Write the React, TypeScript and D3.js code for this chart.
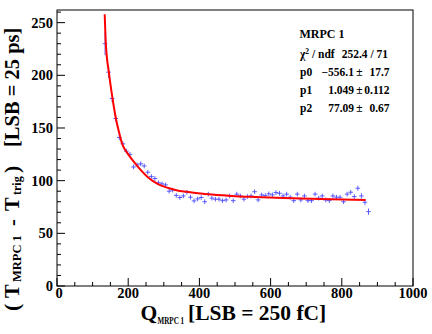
import React, { useEffect } from 'react';
import * as d3 from 'd3';

// ---- data ----
const binCenters = [
  135, 145, 155, 165, 175, 185, 195, 205, 215, 225, 235, 245, 255, 265, 275,
  285, 295, 305, 315, 325, 335, 345, 355, 365, 375, 385, 395, 405, 415, 425,
  435, 445, 455, 465, 475, 485, 495, 505, 515, 525, 535, 545, 555, 565, 575,
  585, 595, 605, 615, 625, 635, 645, 655, 665, 675, 685, 695, 705, 715, 725,
  735, 745, 755, 765, 775, 785, 795, 805, 815, 825, 835, 845, 855, 865, 875,
];
const tdiff = [
  230, 203, 178, 159, 141, 135, 128, 125, 113, 115, 116, 114, 108, 104, 102,
  98, 97, 96, 90, 91, 86, 84, 85.5, 89, 84.3, 80.8, 82.7, 84, 80, 87.2,
  83.4, 82.4, 82.4, 81, 81.7, 85.5, 81, 87.2, 85.5, 82.4, 84.9, 85.5, 89.5, 81.7, 86.5,
  85.8, 87.5, 86.5, 88.7, 88, 85.5, 87.2, 84.3, 81, 87.2, 81.7, 85.5, 81, 81, 87.2,
  83.4, 85.5, 81.7, 81, 85.5, 84.3, 84.3, 80, 87.2, 89, 84.9, 92.8, 85.5, 79.5, 70.6,
];
const tdiffErr = [
  11, 5.5, 3.5, 3, 2.6, 2.4, 2.3, 2.2, 2.2, 2.2, 2.2, 2.2, 2.2, 2.2, 2.2,
  2.2, 2.2, 2.2, 2.2, 2.2, 2.2, 2.2, 2.2, 2.2, 2.2, 2.2, 2.2, 2.2, 2.2, 2.2,
  2.2, 2.2, 2.2, 2.2, 2.2, 2.2, 2.2, 2.2, 2.2, 2.2, 2.2, 2.2, 2.2, 2.2, 2.2,
  2.2, 2.2, 2.2, 2.2, 2.2, 2.2, 2.2, 2.2, 2.2, 2.2, 2.2, 2.2, 2.2, 2.2, 2.2,
  2.2, 2.2, 2.2, 2.2, 2.2, 2.2, 2.2, 2.2, 2.2, 2.2, 2.4, 2.4, 2.6, 2.8, 3,
];
// fit curve
const fitQ = [134, 137, 146, 156, 166, 175, 182, 190, 200, 219, 238, 256, 285, 313, 341, 374, 425, 491, 556, 636, 739, 867];
const fitT = [258, 231, 202, 178, 158, 145, 136, 130, 125, 116.6, 109, 103, 96.5, 93, 90.5, 89, 87, 85.5, 84.5, 83.5, 82.5, 81.7];

const xTicks = [0, 200, 400, 600, 800, 1000];
const yTicks = [0, 50, 100, 150, 200, 250];

const statsTitle = 'MRPC 1';
const chi2Text = '252.4 / 71';
const parNames = ['p0', 'p1', 'p2'];
const parValues = ['\u2212556.1', '1.049', '77.09'];
const parErrors = ['17.7', '0.112', '0.67'];

// ---- layout ----
const W = 432;
const H = 334;
const FL = 57, FR = 413, FT = 10, FB = 286;
const FONT = '"Liberation Serif", "Times New Roman", serif';

export default function App() {
  useEffect(() => {
    document.body.style.margin = '0';
  }, []);

  const x = d3.scaleLinear().domain([0, 1000]).range([FL, FR]);
  const y = d3.scaleLinear().domain([0, 262]).range([FB, FT]);

  const xMinor = d3.range(0, 1001, 50);
  const yMinor = d3.range(0, 261, 10);

  const fitPts = fitQ.map((q, i) => [q, fitT[i]] as [number, number]);
  const fitPath = d3
    .line<[number, number]>()
    .x((d) => x(d[0]))
    .y((d) => y(d[1]))
    .curve(d3.curveMonotoneX)(fitPts) as string;

  const statRowY = [76, 94, 112];

  return (
    <svg
      width={W}
      height={H}
      style={{ position: 'absolute', left: 0, top: 0, background: '#fff' }}
      fontFamily={FONT}
      fontWeight="bold"
    >
      <rect x={0} y={0} width={W} height={H} fill="#fff" />

      {/* data points with error bars */}
      <g stroke="#4444ff" strokeWidth={1} strokeOpacity={0.85}>
        {binCenters.map((c, i) => (
          <g key={i}>
            <line x1={x(c)} x2={x(c)} y1={y(tdiff[i] - tdiffErr[i])} y2={y(tdiff[i] + tdiffErr[i])} />
            <line x1={x(c - 6.5)} x2={x(c + 6.5)} y1={y(tdiff[i])} y2={y(tdiff[i])} />
          </g>
        ))}
      </g>

      {/* fit */}
      <path d={fitPath} fill="none" stroke="#ff0000" strokeWidth={2} />

      {/* frame */}
      <rect x={FL} y={FT} width={FR - FL} height={FB - FT} fill="none" stroke="#000" strokeWidth={1} />

      {/* ticks */}
      <g stroke="#000" strokeWidth={1}>
        {xMinor.map((v) => (
          <line key={'xm' + v} x1={x(v)} x2={x(v)} y1={FB} y2={FB - (v % 200 === 0 ? 8 : 4)} />
        ))}
        {yMinor.map((v) => (
          <line key={'ym' + v} x1={FL} x2={FL + (v % 50 === 0 ? 8 : 4)} y1={y(v)} y2={y(v)} />
        ))}
      </g>

      {/* tick labels */}
      <g fontSize={14.5} fill="#000">
        {xTicks.map((v) => (
          <text key={'xl' + v} x={x(v) + (v === 0 ? 2 : 0)} y={297.5} textAnchor="middle">
            {v}
          </text>
        ))}
        {yTicks.map((v) => (
          <text key={'yl' + v} x={53} y={y(v) + 5} textAnchor="end">
            {v}
          </text>
        ))}
      </g>

      {/* x title */}
      <text x={140.5} y={320} fontSize={21.5} fill="#000">Q</text>
      <text transform="translate(157.5,323.5) scale(0.75,1)" fontSize={9.5} fill="#000">MRPC 1</text>
      <text x={188} y={320} fontSize={21.5} fill="#000">[LSB = 250 fC]</text>

      {/* y title (rotated) */}
      <text transform="translate(18.5,0) rotate(-90)" fontSize={20.5} fill="#000">
        <tspan x={-311} fontSize={22}>(</tspan>
        <tspan x={-298}>T</tspan>
        <tspan x={-282} dy={2} fontSize={12.5}>MRPC 1</tspan>
        <tspan x={-226} dy={-2}>-</tspan>
        <tspan x={-211}>T</tspan>
        <tspan x={-195} dy={2} fontSize={12}>trig</tspan>
        <tspan x={-173} dy={-2} fontSize={22}>)</tspan>
        <tspan x={-147}>[LSB = 25 ps]</tspan>
      </text>

      {/* stats box */}
      <g fill="#000">
        <text x={322} y={38} textAnchor="middle" fontSize={12}>{statsTitle}</text>
        <g fontSize={11.5}>
          <text x={300} y={58}>
            χ<tspan fontSize={7.5} dy={-4.5}>2</tspan>
            <tspan dy={4.5}> / ndf</tspan>
          </text>
          <text x={388} y={58} textAnchor="end">{chi2Text}</text>
          {parNames.map((p, i) => (
            <g key={p}>
              <text x={300} y={statRowY[i]}>{p}</text>
              <text x={354} y={statRowY[i]} textAnchor="end">{parValues[i]}</text>
              <text x={356.3} y={statRowY[i]}>{'\u00b1'}</text>
              <text x={389.5} y={statRowY[i]} textAnchor="end">{parErrors[i]}</text>
            </g>
          ))}
        </g>
      </g>
    </svg>
  );
}
